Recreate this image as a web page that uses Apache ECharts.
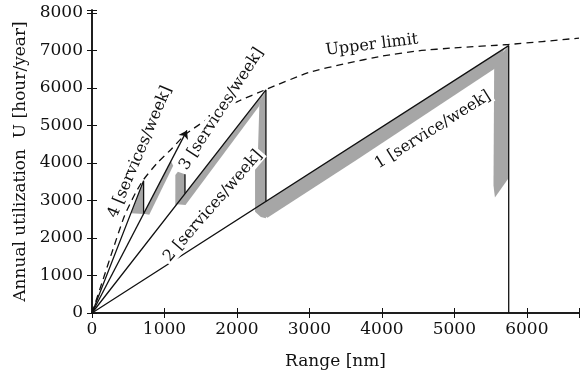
<!DOCTYPE html>
<html>
<head>
<meta charset="utf-8">
<script src="https://cdn.jsdelivr.net/npm/echarts@6/dist/echarts.min.js"></script>
<style>
  html, body { margin: 0; padding: 0; background: #fff; }
  #chart { width: 582px; height: 376px; }
</style>
</head>
<body>
<div id="chart"></div>
<script>
// 坐标轴范围
const xMax = 6720;
const yMax = 8080;

// 各航班频率的利用率折线 [航程 nm, 利用率 hour/year]
const line1 = [[0, 0], [5750, 7130], [5750, 0]];
const line2 = [[0, 0], [2400, 5950], [2400, 2976]];
const line3 = [[0, 0], [1310, 4870]];
const drop3 = [[1283, 3700], [1283, 3190]];
const line4 = [[0, 0], [712, 3530], [712, 2650]];

// 上限曲线
const upperLimit = [
  [0, 0], [150, 880], [300, 1760], [450, 2600], [600, 3200], [712, 3560], [900, 4000],
  [1100, 4380], [1300, 4780], [1700, 5300], [2000, 5630], [2400, 5960], [3000, 6420],
  [3500, 6650], [4000, 6850], [4500, 6990], [5000, 7070], [5750, 7160], [6720, 7330]
];

// 阴影区域（网点）
const shade4 = [[540, 2660], [712, 3540], [712, 2640]];
const shade3a = [[712, 2650], [1090, 4055], [1120, 3930], [790, 2620]];
const shade3b = [[1150, 2852], [1150, 3680], [1185, 3770], [1283, 3700], [1283, 3180]];
const shade2a = [[1170, 2902], [2380, 5900], [2300, 5500], [1290, 2880]];
const shade2b = [[2310, 5600], [2400, 5950], [2400, 2530], [2330, 2560], [2250, 2700], [2250, 3900], [2290, 4300]];
const shade1a = [[2250, 2790], [5700, 7070], [5560, 6520], [3650, 4080], [2420, 2540]];
const shade1b = [[5550, 6700], [5750, 7130], [5750, 3600], [5560, 3080], [5540, 3400]];
const shadeAreas = [shade4, shade3a, shade3b, shade2a, shade2b, shade1a, shade1b];

const font = 'DejaVu Serif';
const ink = '#111';
const shadeColor = '#a6a6a6';

const frameAxis = (extra) => Object.assign({
  type: 'value',
  min: 0,
  interval: 1000,
  axisLine: { show: true, lineStyle: { color: ink, width: 1.5 } },
  axisTick: { show: true, inside: true, length: 5, lineStyle: { color: ink, width: 1 } },
  splitLine: { show: false },
  axisLabel: { show: false }
}, extra);

const tickLabel = {
  show: true,
  fontFamily: font,
  fontSize: 17,
  color: ink,
  formatter: (v) => (v % 1000 === 0 ? String(v) : '')
};

const plainLine = (data) => ({
  type: 'line',
  data,
  symbol: 'none',
  lineStyle: { color: ink, width: 1.3 },
  z: 3
});

const chart = echarts.init(document.getElementById('chart'));
chart.setOption({
  animation: false,
  backgroundColor: '#fff',
  grid: { left: 92, right: 3, top: 10, bottom: 63 },
  xAxis: [
    frameAxis({
      max: xMax, position: 'bottom',
      axisLabel: Object.assign({}, tickLabel, { margin: 8 }),
      name: 'Range [nm]', nameLocation: 'middle', nameGap: 40,
      nameTextStyle: { fontFamily: font, fontSize: 17, color: ink }
    }),
    frameAxis({ max: xMax, position: 'top' })
  ],
  yAxis: [
    frameAxis({
      max: yMax, position: 'left',
      axisLabel: Object.assign({}, tickLabel, { margin: 9 }),
      name: 'Annual utilization  U [hour/year]', nameLocation: 'middle', nameGap: 62,
      nameTextStyle: { fontFamily: font, fontSize: 17, color: ink }
    }),
    frameAxis({ max: yMax, position: 'right' })
  ],
  series: [
    {
      type: 'custom',
      renderItem: (params, api) => {
        const poly = shadeAreas[params.dataIndex];
        return {
          type: 'polygon',
          shape: { points: poly.map((p) => api.coord(p)) },
          style: { fill: shadeColor }
        };
      },
      data: shadeAreas.map((p) => p[0]),
      z: 1
    },
    plainLine(line1),
    plainLine(line2),
    plainLine(line4),
    plainLine(drop3),
    {
      type: 'lines',
      coordinateSystem: 'cartesian2d',
      symbol: ['none', 'arrow'],
      symbolSize: 8,
      lineStyle: { color: ink, width: 1.3, opacity: 1, curveness: 0 },
      data: [{ coords: line3 }],
      z: 3
    },
    {
      type: 'line',
      data: upperLimit,
      smooth: 0.2,
      symbol: 'none',
      lineStyle: { color: ink, width: 1.3, type: [7, 5] },
      z: 2
    }
  ]
});

// 斜向标注
const notes = [
  { text: '1 [service/week]', at: [4703, 4880], angle: 32, bg: true },
  { text: '2 [services/week]', at: [1669, 2853], angle: 49, bg: true },
  { text: '3 [services/week]', at: [1790, 5440], angle: 57, bg: true },
  { text: '4 [services/week]', at: [662, 4293], angle: 67, bg: false },
  { text: 'Upper limit', at: [3862, 7147], angle: 7, bg: false }
];
chart.setOption({
  graphic: notes.map((n) => {
    const [px, py] = chart.convertToPixel({ gridIndex: 0 }, n.at);
    return {
      type: 'text',
      x: px,
      y: py,
      rotation: n.angle * Math.PI / 180,
      z: 10,
      style: {
        text: n.text,
        fontFamily: font,
        fontSize: 16,
        fill: ink,
        align: 'center',
        verticalAlign: 'middle',
        backgroundColor: n.bg ? '#fff' : 'transparent',
        padding: [0, 2]
      }
    };
  })
});
</script>
</body>
</html>
